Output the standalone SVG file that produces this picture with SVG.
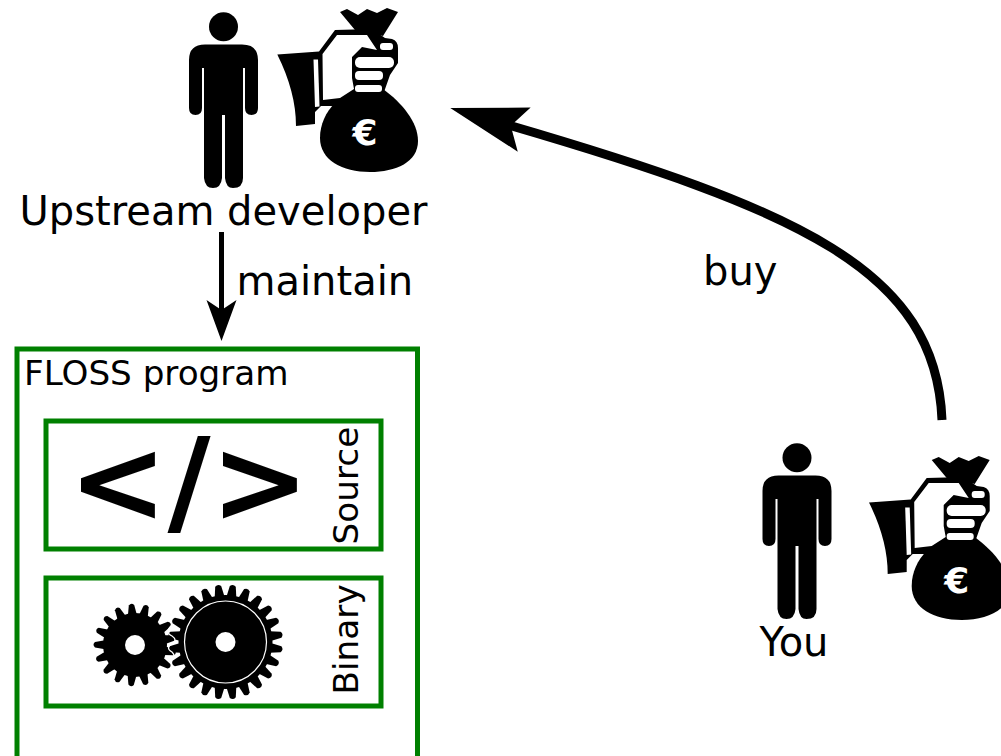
<svg xmlns="http://www.w3.org/2000/svg" width="1001" height="756" viewBox="0 0 1001 756">
<style>
text{font-family:"DejaVu Sans",sans-serif;fill:#000}
.lbl{font-size:40px}
.box{fill:#fff;stroke:#008000;stroke-width:5}
.conn{fill:none;stroke:#000}
</style>
<defs>
<marker id="headL" markerUnits="userSpaceOnUse" markerWidth="80" markerHeight="50" refX="20" refY="25" orient="auto" viewBox="0 0 80 50"><path d="M0,2 L77,25 L0,48 L14,25Z"/></marker>
<marker id="headS" markerUnits="userSpaceOnUse" markerWidth="44" markerHeight="32" refX="14" refY="16" orient="auto" viewBox="0 0 44 32"><path d="M0,1 L41,16 L0,31 L10,16Z"/></marker>
<path id="toothL" d="M-5,-45 L-3,-56 Q0,-59 3,-56 L5,-45Z"/>
<path id="toothS" d="M-4.5,-30 L-2.7,-40 Q0,-43 2.7,-40 L4.5,-30Z"/>
<g id="person">
<circle cx="223.5" cy="26.7" r="14.5"/>
<path d="M189,60 Q189,44.5 205,44.5 H242 Q258,44.5 258,60 V108 Q258,115 251.5,115 Q245,115 245,108 V68 H243 V178 Q243,188 233,188 Q226,188 225,178 V115 H222 V178 Q221,188 213,188 Q205,188 204,178 V68 H202 V108 Q202,115 195.5,115 Q189,115 189,108Z"/>
</g>
<g id="bag">
<path d="M277.3,54.5 L319,51.5 L335,30 L372,29 L385,38 L392,39 Q398,41 398,48 V63 L390,75 L384,92 L352,95 L335,106 L321,106 L315,112 L315,124 L296,126 Q296,92 277.3,54.5Z"/>
<path fill="#fff" d="M322.5,54 L337,35 L367,35 L377,50 L362,47 L352,57 L352,78 L354,89 L340,98 L323,100Z"/>
<path fill="#fff" d="M313.5,59.5 H318 L319.5,106.5 L315,107Z"/>
<path d="M340,12 L347,9 L358,15 L367,9 L377,13 L387,8 L398,12 L383,36 L372,33 L355,30Z"/>
<path d="M355,92 L383,89 C402,103 418,122 418,141 C418,162 396,172 370,172 C342,172 320,160 320,138 C320,124 326,112 335,103Z"/>
<rect x="380" y="43" width="13" height="7" rx="3" fill="#fff"/>
<rect x="355" y="57" width="39" height="11" rx="5" fill="#fff"/>
<rect x="355" y="71" width="28" height="9" rx="4" fill="#fff"/>
<rect x="355" y="85" width="27" height="7" rx="3" fill="#fff"/>
<text x="365" y="145" font-size="36" font-weight="bold" text-anchor="middle" style="fill:#fff">€</text>
</g>
</defs>
<g id="connectors">
<path class="conn" stroke-width="9" marker-end="url(#headL)" d="M942,420 C936,270 800,210 505,124"/>
<path class="conn" stroke-width="5" marker-end="url(#headS)" d="M221.5,232 V314"/>
</g>
<g id="upstream"><use href="#person"/><use href="#bag"/><text class="lbl" x="223.5" y="225" text-anchor="middle">Upstream developer</text></g>
<g id="you"><use href="#person" x="573.5" y="431"/><use href="#bag" x="591.7" y="448"/><text class="lbl" x="794" y="656" text-anchor="middle">You</text></g>
<text id="label-maintain" class="lbl" x="236.5" y="295">maintain</text>
<text id="label-buy" class="lbl" x="703" y="285">buy</text>
<g id="floss">
<rect class="box" x="17" y="349" width="400.5" height="420"/>
<text x="24" y="385" font-size="34.2">FLOSS program</text>
</g>
<g id="source">
<rect class="box" x="46" y="421" width="335" height="128"/>
<text x="189" y="522" font-size="118" font-weight="bold" text-anchor="middle">&lt;/&gt;</text>
<text transform="translate(358,544.5) rotate(-90)" font-size="34.3">Source</text>
</g>
<g id="binary">
<rect class="box" x="46" y="578" width="335" height="128"/>
<g transform="translate(135,645)">
<circle r="32"/>
<use href="#toothS" transform="rotate(-5)"/><use href="#toothS" transform="rotate(16.2)"/><use href="#toothS" transform="rotate(37.4)"/><use href="#toothS" transform="rotate(58.5)"/><use href="#toothS" transform="rotate(79.7)"/><use href="#toothS" transform="rotate(100.9)"/><use href="#toothS" transform="rotate(122.1)"/><use href="#toothS" transform="rotate(143.2)"/><use href="#toothS" transform="rotate(164.4)"/><use href="#toothS" transform="rotate(185.6)"/><use href="#toothS" transform="rotate(206.8)"/><use href="#toothS" transform="rotate(227.9)"/><use href="#toothS" transform="rotate(249.1)"/><use href="#toothS" transform="rotate(270.3)"/><use href="#toothS" transform="rotate(291.5)"/><use href="#toothS" transform="rotate(312.6)"/><use href="#toothS" transform="rotate(333.8)"/>
<circle r="10" fill="#fff"/>
</g>
<g transform="translate(225.5,642)">
<circle r="47"/>
<use href="#toothL" transform="rotate(7.5)"/><use href="#toothL" transform="rotate(22.5)"/><use href="#toothL" transform="rotate(37.5)"/><use href="#toothL" transform="rotate(52.5)"/><use href="#toothL" transform="rotate(67.5)"/><use href="#toothL" transform="rotate(82.5)"/><use href="#toothL" transform="rotate(97.5)"/><use href="#toothL" transform="rotate(112.5)"/><use href="#toothL" transform="rotate(127.5)"/><use href="#toothL" transform="rotate(142.5)"/><use href="#toothL" transform="rotate(157.5)"/><use href="#toothL" transform="rotate(172.5)"/><use href="#toothL" transform="rotate(187.5)"/><use href="#toothL" transform="rotate(202.5)"/><use href="#toothL" transform="rotate(217.5)"/><use href="#toothL" transform="rotate(232.5)"/><use href="#toothL" transform="rotate(247.5)"/><use href="#toothL" transform="rotate(262.5)"/><use href="#toothL" transform="rotate(277.5)"/><use href="#toothL" transform="rotate(292.5)"/><use href="#toothL" transform="rotate(307.5)"/><use href="#toothL" transform="rotate(322.5)"/><use href="#toothL" transform="rotate(337.5)"/><use href="#toothL" transform="rotate(352.5)"/>
<circle r="41" fill="none" stroke="#fff" stroke-width="1.2"/>
<circle r="10" fill="#fff"/>
</g>
<path d="M172,625 Q164,632 172,636 Q178,640 172,644 Q165,648 172,652 Q176,656 172,660" fill="none" stroke="#fff" stroke-width="1.2"/>
<text transform="translate(358,694.5) rotate(-90)" font-size="34.3">Binary</text>
</g>
</svg>
